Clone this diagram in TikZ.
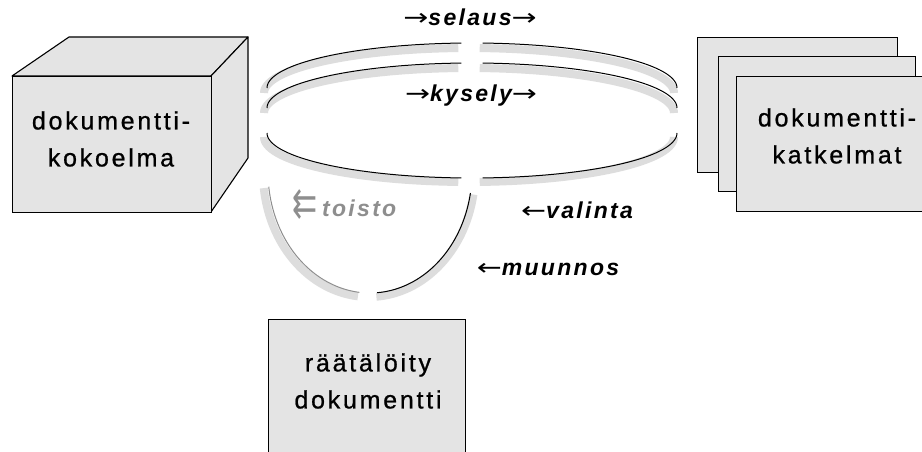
\documentclass[tikz,border=0pt]{standalone}
\usepackage{fontspec}
\usepackage{graphicx}
\setmainfont{Liberation Sans}
\newfontfamily\arrowfont{DejaVu Sans}
\newfontfamily\boxfont[LetterSpace=11,FakeBold=0.8]{Liberation Sans}
\newfontfamily\lblfont[LetterSpace=10]{Liberation Sans}
\definecolor{boxgray}{HTML}{E4E4E4}
\definecolor{shadowgray}{HTML}{DDDDDD}
\definecolor{ghostgray}{HTML}{8E8E8E}
\newcommand{\rarr}{{\arrowfont\mdseries\upshape\scalebox{1.3}[1]{→}}}
\newcommand{\larr}{{\arrowfont\mdseries\upshape\scalebox{1.3}[1]{←}}}
\begin{document}
\begin{tikzpicture}[x=1pt,y=-1pt,
  boxstyle/.style={draw=black, line width=1.1pt, fill=boxgray},
  boxtext/.style={align=center, font=\boxfont\fontsize{25}{37}\selectfont, inner sep=0pt},
  lbl/.style={font=\lblfont\bfseries\itshape\fontsize{23}{25}\selectfont, inner sep=0pt, anchor=base},
  arrowlbl/.style={font=\arrowfont\fontsize{23}{25}\selectfont, inner sep=0pt},
  shadowline/.style={line width=8pt, draw=shadowgray},
  arcline/.style={line width=1pt, draw=black},
  ghostline/.style={line width=1pt, draw=ghostgray}]
\clip (0,0) rectangle (922,452);
\fill[white] (0,0) rectangle (922,452);

% cube: dokumenttikokoelma
\filldraw[boxstyle, line join=round] (12,76) -- (69,37) -- (248,37) -- (211,76) -- cycle;
\filldraw[boxstyle, line join=round] (211,76) -- (248,37) -- (248,158) -- (211,212) -- cycle;
\node[boxstyle, minimum width=199pt, minimum height=136pt, anchor=north west] (kokoelma) at (12,76) {};
\node[boxtext] (kokoelmatext) at (111,139) {dokumentti-\\kokoelma};

% stack: dokumenttikatkelmat
\node[boxstyle, minimum width=200pt, minimum height=135pt, anchor=north west] (stackA) at (697,37) {};
\node[boxstyle, minimum width=197pt, minimum height=135pt, anchor=north west] (stackB) at (718,56) {};
\node[boxstyle, minimum width=202pt, minimum height=135pt, anchor=north west] (stackC) at (736,76) {};
\node[boxtext] (katkelmattext) at (837,136) {dokumentti-\\katkelmat};

% bottom box: raatalotity dokumentti
\node[boxstyle, minimum width=197pt, minimum height=142pt, anchor=north west] (raatal) at (268,319) {};
\node[boxtext] (raataltext) at (368,381) {räätälöity\\dokumentti};

% shadows of the loops
\draw[shadowline] plot[domain=180:267, samples=60] ({469+205*cos(\x)},{93+45*sin(\x)});
\draw[shadowline] plot[domain=273:360, samples=60] ({469+205*cos(\x)},{93+45*sin(\x)});
\draw[shadowline] plot[domain=180:267, samples=60] ({469+205*cos(\x)},{113+45*sin(\x)});
\draw[shadowline] plot[domain=273:360, samples=60] ({469+205*cos(\x)},{113+45*sin(\x)});
\draw[shadowline] plot[domain=93:180, samples=60] ({469+205*cos(\x)},{137+45*sin(\x)});
\draw[shadowline] plot[domain=0:87, samples=60] ({469+205*cos(\x)},{137+45*sin(\x)});
\draw[shadowline] plot[domain=96:173, samples=60] ({369+106*cos(\x)},{173+124*sin(\x)});
\draw[shadowline] plot[domain=10:86, samples=60] ({369+106*cos(\x)},{173+124*sin(\x)});

% loop lines
\draw[arcline] plot[domain=180:267, samples=60] ({472+205*cos(\x)},{88+45*sin(\x)});
\draw[arcline] plot[domain=273:360, samples=60] ({472+205*cos(\x)},{88+45*sin(\x)});
\draw[arcline] plot[domain=180:267, samples=60] ({472+205*cos(\x)},{108+45*sin(\x)});
\draw[arcline] plot[domain=273:360, samples=60] ({472+205*cos(\x)},{108+45*sin(\x)});
\draw[arcline] plot[domain=93:180, samples=60] ({472+205*cos(\x)},{133+45*sin(\x)});
\draw[arcline] plot[domain=0:87, samples=60] ({472+205*cos(\x)},{133+45*sin(\x)});
\draw[ghostline] plot[domain=96:173, samples=60] ({370+102*cos(\x)},{172+121*sin(\x)});
\draw[arcline] plot[domain=10:86, samples=60] ({370+102*cos(\x)},{172+121*sin(\x)});

% labels
\node[lbl] (selaus) at (470,26) {\rarr selaus\rarr};
\node[lbl] (kysely) at (471,102) {\rarr kysely\rarr};
\node[lbl, text=ghostgray, anchor=base west] (toisto) at (322,216) {toisto};
\node[arrowlbl, text=ghostgray] (toistoarrows) at (305,205) {\scalebox{1.3}[1.8]{⇇}};
\node[lbl] (valinta) at (577,218) {\larr valinta};
\node[lbl] (muunnos) at (548,275) {\larr muunnos};
\end{tikzpicture}
\end{document}
